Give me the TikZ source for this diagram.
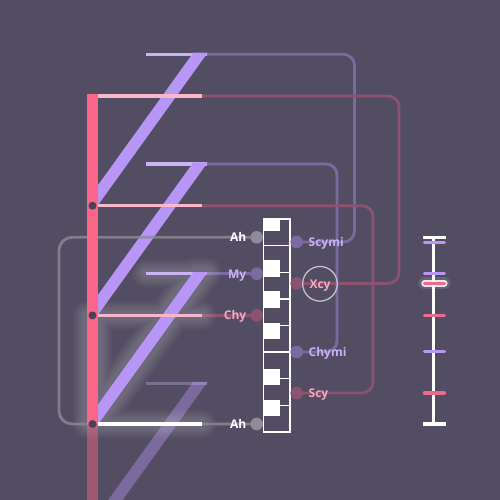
\documentclass[tikz,border=0pt]{standalone}
\usepackage{fontspec}
\setmainfont{Open Sans}
\definecolor{bg}{RGB}{83,77,99}
\definecolor{barred}{RGB}{250,102,136}
\definecolor{lav}{RGB}{184,150,245}
\definecolor{lavlight}{RGB}{203,180,245}
\definecolor{lavdim}{RGB}{123,106,159}
\definecolor{pinklight}{RGB}{248,184,202}
\definecolor{reddim}{RGB}{139,82,113}
\definecolor{greyl}{RGB}{142,138,152}
\definecolor{dotdark}{RGB}{72,67,88}
\definecolor{labpink}{RGB}{245,170,192}
\definecolor{lablav}{RGB}{200,178,245}
\definecolor{tickpink}{RGB}{240,104,140}
\definecolor{ringgrey}{RGB}{196,192,206}
\begin{document}
\begin{tikzpicture}[x=1pt,y=-1pt,
  conn/.style={line width=2.8pt, rounded corners=11pt},
  hline/.style={line width=3.4pt},
  dot/.style={circle, inner sep=0pt, minimum size=12.6pt},
  bardot/.style={circle, fill=dotdark, inner sep=0pt, minimum size=8pt},
  lab/.style={font=\bfseries\fontsize{12}{14}\selectfont, inner sep=0pt},
  tick/.style={line width=3.5pt, line cap=round},
  keyline/.style={white, line width=1.4pt}]
\useasboundingbox (0,0) rectangle (500,500);
\fill[bg] (0,0) rectangle (500,500);

% named points
\coordinate (pAh1) at (256.7,237.3);
\coordinate (pMy) at (256.7,273.7);
\coordinate (pChy) at (256.7,315.4);
\coordinate (pAh2) at (256.7,424);
\coordinate (pScymi) at (296.7,242);
\coordinate (pXcy) at (296.7,283.5);
\coordinate (pChymi) at (296.7,352);
\coordinate (pScy) at (296.7,393);
\coordinate (eL1) at (207,54.3);
\coordinate (eP1) at (202,96);
\coordinate (eL2) at (207,164);
\coordinate (eP2) at (202,205.7);
\coordinate (eL3) at (207,273.7);
\coordinate (eP3) at (202,315.4);
\coordinate (eW) at (202,424);

% dim connectors
\draw[conn, lavdim] (eL1) -- (354.5,54.3) -- (354.5,242) -- (pScymi);
\draw[conn, reddim] (eP1) -- (399,96) -- (399,283.5) -- (pXcy);
\draw[conn, lavdim] (eL2) -- (337,164) -- (337,352) -- (pChymi);
\draw[conn, reddim] (eP2) -- (373,205.7) -- (373,393) -- (pScy);
\draw[conn, lavdim] (eL3) -- (pMy);
\draw[conn, reddim] (eP3) -- (pChy);

% faded fourth group
\fill[lav, opacity=0.4] (193.3,381.8) -- (207.7,381.8) -- (122.6,500) -- (108.2,500) -- cycle;
\draw[hline, lavlight, opacity=0.35] (146,383.4) -- (207,383.4);

% soft glow of highlighted group
\foreach \w in {28,24,20,16,12,9}{
  \draw[white, opacity=0.03, line width=\w pt, line cap=round, line join=round]
    (146,273.7) -- (207,273.7)
    (193.3,272) -- (207.7,272) -- (98,424.4) -- (98,404.4) -- cycle
    (98,315.4) -- (202,315.4)
    (87,315.4) rectangle (98,424)
    (98,424) -- (202,424);
}

% diagonals and short lavender lines
\foreach \k in {0,1,2}{
  \pgfmathsetmacro{\T}{52.7+109.7*\k}
  \pgfmathsetmacro{\Ly}{54.3+109.7*\k}
  \draw[hline, lavlight] (146,\Ly) -- (207,\Ly);
  \fill[lav] (193.3,\T) -- (207.7,\T) -- (98,\T+152.4) -- (98,\T+132.4) -- cycle;
}

% grey loop
\draw[conn, greyl, opacity=0.8, rounded corners=13pt] (pAh1) -- (59,237.3) -- (59,424) -- (pAh2);

% pink and white lines
\draw[hline, pinklight] (98,96) -- (eP1);
\draw[hline, pinklight] (98,205.7) -- (eP2);
\draw[hline, pinklight] (98,315.4) -- (eP3);
\draw[hline, white] (98,424) -- (eW);

% red bar
\fill[barred] (87,94) rectangle (98,424);
\fill[barred, opacity=0.45] (87,424) rectangle (98,500);
\node[bardot] (b1) at (92.5,205.7) {};
\node[bardot] (b2) at (92.5,315.4) {};
\node[bardot] (b3) at (92.5,424) {};

% keyboard
\draw[keyline] (263.3,219) rectangle (290,431.8);
\foreach \k in {1,...,7}{
  \draw[keyline] (263.3,219+26.6*\k) -- (290,219+26.6*\k);
}
\foreach \a/\b in {219/230.5, 260/276.5, 291/307.5, 322.5/338.5, 368.5/385, 399.5/416}{
  \fill[white] (263.3,\a) rectangle (280,\b);
}

% dots
\node[dot, fill=greyl] (dAh1) at (pAh1) {};
\node[dot, fill=lavdim] (dMy) at (pMy) {};
\node[dot, fill=reddim] (dChy) at (pChy) {};
\node[dot, fill=greyl] (dAh2) at (pAh2) {};
\node[dot, fill=lavdim] (dScymi) at (pScymi) {};
\node[dot, fill=reddim] (dXcy) at (pXcy) {};
\node[dot, fill=lavdim] (dChymi) at (pChymi) {};
\node[dot, fill=reddim] (dScy) at (pScy) {};

% labels
\node[lab, white, anchor=base east] (tAh1) at (246.5,241.8) {Ah};
\node[lab, lablav, anchor=base east] (tMy) at (246.5,278.2) {My};
\node[lab, labpink, anchor=base east] (tChy) at (246.5,319.9) {Chy};
\node[lab, white, anchor=base east] (tAh2) at (246.5,428.5) {Ah};
\node[lab, lablav, anchor=base west] (tScymi) at (308.5,246.5) {Scymi};
\node[circle, draw=ringgrey, line width=1.3pt, minimum size=34.6pt, inner sep=0pt] (cXcy) at (320,283.8) {};
\node[lab, labpink, anchor=base] (tXcy) at (320,288) {Xcy};
\node[lab, lablav, anchor=base west] (tChymi) at (308.5,356.5) {Chymi};
\node[lab, labpink, anchor=base west] (tScy) at (308.5,397.5) {Scy};

% scale
\coordinate (sTop) at (433.3,237.3);
\coordinate (sBot) at (433.3,424);
\draw[white, line width=3pt] (sTop) -- (sBot);
\draw[white, line width=3.5pt] (422.7,237.3) -- (446,237.3);
\draw[white, line width=3.5pt] (422.7,424) -- (446,424);
\draw[tick, lav] (424.5,242.3) -- (444.3,242.3);
\draw[tick, lav] (424.5,273.3) -- (444.3,273.3);
\draw[white, opacity=0.12, line width=12pt, line cap=round] (424.5,283.3) -- (444.3,283.3);
\draw[white, opacity=0.85, line width=6.5pt, line cap=round] (424.5,283.3) -- (444.3,283.3);
\draw[tick, tickpink] (424.5,283.3) -- (444.3,283.3);
\draw[tick, tickpink] (424.5,315.3) -- (444.3,315.3);
\draw[tick, lav] (424.5,351.7) -- (444.3,351.7);
\draw[tick, tickpink] (424.5,393) -- (444.3,393);
\end{tikzpicture}
\end{document}
